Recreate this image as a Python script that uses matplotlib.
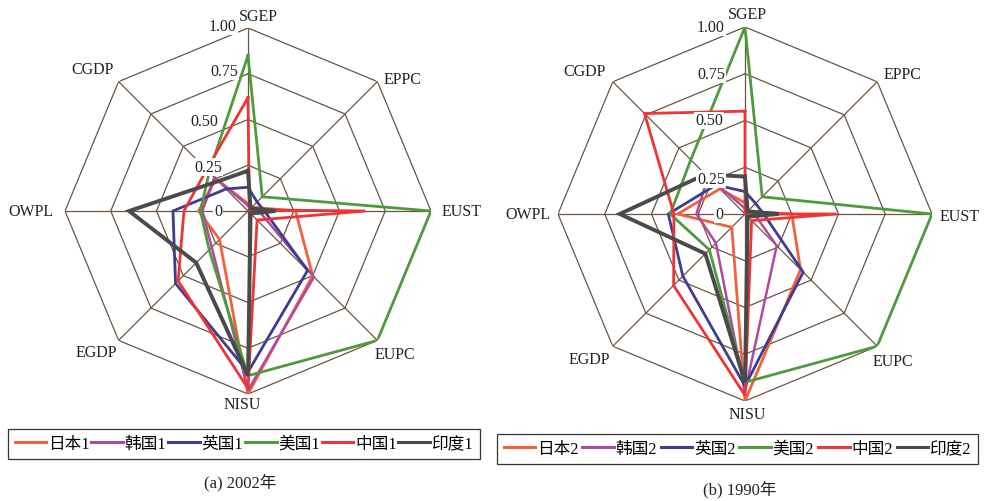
import numpy as np
import matplotlib
matplotlib.use('Agg')
import matplotlib.pyplot as plt

# ---------------- data ----------------
categories = ['SGEP', 'EPPC', 'EUST', 'EUPC', 'NISU', 'EGDP', 'OWPL', 'CGDP']
ring_values = [0.25, 0.50, 0.75, 1.00]
tick_values = [0, 0.25, 0.50, 0.75, 1.00]
tick_labels = ['0', '0.25', '0.50', '0.75', '1.00']

names_2002 = ['日本1', '韩国1', '英国1', '美国1', '中国1', '印度1']
japan_2002 = [0.04, 0.03, 0.26, 0.50, 1.00, 0.22, 0.27, 0.25]
korea_2002 = [0.03, 0.03, 0.06, 0.51, 0.98, 0.28, 0.25, 0.26]
uk_2002    = [0.13, 0.07, 0.09, 0.46, 0.88, 0.56, 0.41, 0.17]
us_2002    = [0.85, 0.11, 1.00, 1.00, 0.90, 0.30, 0.26, 0.30]
china_2002 = [0.62, 0.01, 0.64, 0.07, 0.97, 0.54, 0.35, 0.32]
india_2002 = [0.22, 0.02, 0.15, 0.02, 0.90, 0.40, 0.65, 0.23]

names_1990 = ['日本2', '韩国2', '英国2', '美国2', '中国2', '印度2']
japan_1990 = [0.06, 0.02, 0.25, 0.42, 1.00, 0.10, 0.36, 0.19]
korea_1990 = [0.03, 0.02, 0.05, 0.24, 0.95, 0.22, 0.26, 0.28]
uk_1990    = [0.12, 0.08, 0.10, 0.44, 0.92, 0.47, 0.41, 0.22]
us_1990    = [1.00, 0.13, 1.00, 1.00, 0.90, 0.27, 0.40, 0.41]
china_1990 = [0.55, 0.00, 0.49, 0.05, 0.97, 0.54, 0.38, 0.76]
india_1990 = [0.20, 0.02, 0.18, 0.02, 0.90, 0.30, 0.67, 0.30]

series_2002 = [japan_2002, korea_2002, uk_2002, us_2002, china_2002, india_2002]
series_1990 = [japan_1990, korea_1990, uk_1990, us_1990, china_1990, india_1990]

colors = ['#f2603c', '#b04a9e', '#3d3d8f', '#4e9a3c', '#ee3535', '#4a4a4a']
widths = [2.0, 1.8, 2.0, 2.0, 2.0, 2.8]
grid_color = '#6b5440'

SERIF = 'Liberation Serif'
CJK = ['Liberation Serif', 'Noto Sans CJK SC', 'DejaVu Sans']

fig = plt.figure(figsize=(9.88, 5.02), dpi=100)
W, H = 988, 502
PT = 0.72  # points per pixel at 100 dpi


def make_axes(cx, cy, R):
    ax = fig.add_axes([(cx - R) / W, 1 - (cy + R) / H, 2 * R / W, 2 * R / H],
                      projection='polar')
    ax.set_theta_zero_location('N')
    ax.set_theta_direction(-1)
    ax.set_ylim(0, 1)
    ax.set_xticks([])
    ax.set_yticks([])
    ax.grid(False)
    ax.spines['polar'].set_visible(False)
    ax.set_facecolor('none')
    return ax


def draw_radar(ax, series, names, label_offsets, tick_offsets):
    n = len(categories)
    theta = np.arange(n) * 2 * np.pi / n
    theta_c = np.append(theta, theta[0])
    for r in ring_values:
        ax.plot(theta_c, [r] * (n + 1), color=grid_color, lw=0.9, zorder=1)
    for t in theta:
        ax.plot([t, t], [0, 1], color=grid_color, lw=0.9, zorder=1)
    handles = []
    for vals, name, c, lw in zip(series, names, colors, widths):
        v = np.append(vals, vals[0])
        h, = ax.plot(theta_c, v, color=c, lw=lw, label=name, zorder=3,
                     solid_joinstyle='miter')
        handles.append(h)
    for t, cat, (dx, dy, ha) in zip(theta, categories, label_offsets):
        ax.annotate(cat, xy=(t, 1.0), xytext=(dx * PT, dy * PT),
                    textcoords='offset points', ha=ha, va='center',
                    fontsize=11.5, family=SERIF, color='#222222')
    for val, lab, (dx, dy) in zip(tick_values, tick_labels, tick_offsets):
        ax.annotate(lab, xy=(0, val), xytext=(dx * PT, dy * PT),
                    textcoords='offset points', ha='right', va='center',
                    fontsize=11.5, family=SERIF, color='#222222', zorder=5,
                    bbox=dict(boxstyle='square,pad=0.05', fc='white', ec='none'))
    return handles


ax1 = make_axes(248, 212, 183)
left_label_off = [(10, 12, 'center'), (25, 3, 'center'), (11, 0, 'left'),
                  (18, -14, 'center'), (-6, -10, 'center'), (-22, -12, 'center'),
                  (-12, 0, 'right'), (-26, 13, 'center')]
left_tick_off = [(-26, 0), (-26, -2), (-30, -1.5), (-10, 3), (-11, 2)]
h1 = draw_radar(ax1, series_2002, names_2002, left_label_off, left_tick_off)

ax2 = make_axes(745, 215, 187)
right_label_off = [(2, 13, 'center'), (25, 8, 'center'), (8, -2, 'left'),
                   (16, -15, 'center'), (2, -13, 'center'), (-23, -13, 'center'),
                   (-8, 0, 'right'), (-28, 11, 'center')]
right_tick_off = [(-22, 0), (-20, -12), (-22, 0), (-20, 0), (-20, 0)]
h2 = draw_radar(ax2, series_1990, names_1990, right_label_off, right_tick_off)

leg_kw = dict(loc='center', mode='expand', ncol=6, frameon=True, fancybox=False,
              edgecolor='black', handlelength=1.9, handletextpad=0.1,
              columnspacing=0.2, borderpad=0.4, borderaxespad=0,
              prop={'family': CJK, 'size': 12})
leg1 = fig.legend(handles=h1, bbox_to_anchor=(8 / W, 1 - 462 / H, 472 / W, 34 / H), **leg_kw)
leg2 = fig.legend(handles=h2, bbox_to_anchor=(497 / W, 1 - 468 / H, 481 / W, 36 / H), **leg_kw)
for leg in (leg1, leg2):
    leg.get_frame().set_linewidth(0.9)
    for line in leg.get_lines():
        line.set_linewidth(2.2)

fig.text(240 / W, 1 - 483 / H, '(a) 2002年', ha='center', va='center',
         fontsize=12, family=CJK, color='#222222')
fig.text(740 / W, 1 - 490 / H, '(b) 1990年', ha='center', va='center',
         fontsize=12, family=CJK, color='#222222')

fig.savefig('out.png', dpi=100, facecolor='white')
